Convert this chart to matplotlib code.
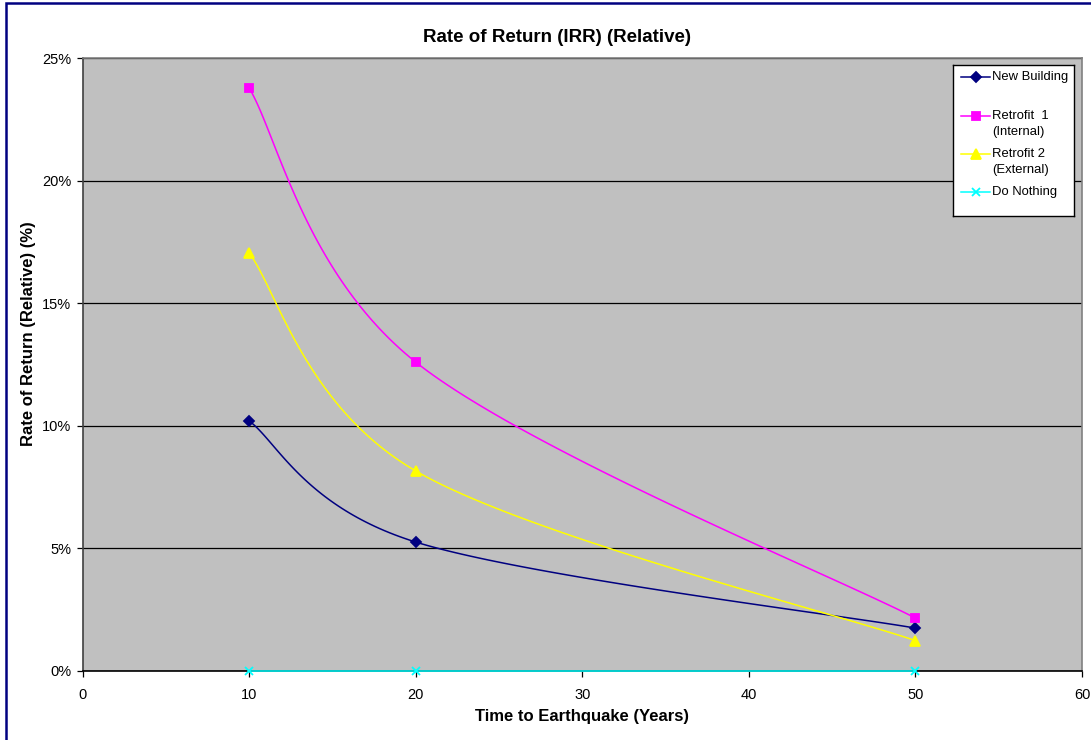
import matplotlib
matplotlib.use("Agg")
import numpy as np
from matplotlib import pyplot as plt
from matplotlib.patches import Rectangle

plt.rcParams["font.family"] = ["Liberation Sans", "DejaVu Sans"]

YEARS = [10, 20, 50]
NEW_BUILDING = [10.2, 5.26, 1.75]
RETROFIT_1 = [23.78, 12.6, 2.16]
RETROFIT_2 = [17.05, 8.16, 1.24]
DO_NOTHING = [0.0, 0.0, 0.0]

SERIES = [
    {"name": "New Building", "data": NEW_BUILDING, "color": "#000080", "marker": "D", "ms": 4.8},
    {"name": "Retrofit  1\n(Internal)", "data": RETROFIT_1, "color": "#FF00FF", "marker": "s", "ms": 5.8},
    {"name": "Retrofit 2\n(External)", "data": RETROFIT_2, "color": "#FFFF00", "marker": "^", "ms": 6.5},
    {"name": "Do Nothing", "data": DO_NOTHING, "color": "#00FFFF", "marker": "x", "ms": 6},
]


def smooth(xs, ys, n=60):
    # excel-ish smoothing: catmull-rom bezier through the points
    p = np.column_stack([xs, ys]).astype(float)
    p = np.vstack([p[0], p, p[-1]])
    out = []
    for i in range(1, len(p) - 2):
        p0, p1, p2, p3 = p[i - 1], p[i], p[i + 1], p[i + 2]
        c1 = p1 + (p2 - p0) / 6
        c2 = p2 - (p3 - p1) / 6
        t = np.linspace(0, 1, n)[:, None]
        seg = ((1 - t) ** 3) * p1 + 3 * t * (1 - t) ** 2 * c1 + 3 * t ** 2 * (1 - t) * c2 + t ** 3 * p2
        out.append(seg)
    out = np.vstack(out)
    return out[:, 0], out[:, 1]


fig = plt.figure(figsize=(10.91, 7.40), dpi=100)
W, H = 1091, 740
ax = fig.add_axes([82.5 / W, 1 - 671 / H, (1082 - 82.5) / W, (671 - 58) / H])
ax.set_facecolor("#C0C0C0")

for s in SERIES:
    sx, sy = smooth(YEARS, s["data"])
    ax.plot(sx, sy, color=s["color"], lw=1.1, zorder=3, clip_on=False)
    ax.plot(YEARS, s["data"], ls="none", marker=s["marker"], ms=s["ms"], color=s["color"],
            mec=s["color"], mew=1.3, zorder=4, clip_on=False)

ax.set_xlim(0, 60)
ax.set_ylim(0, 25)
ax.set_xticks(range(0, 61, 10))
ax.set_yticks(range(0, 26, 5))
ax.set_yticklabels([f"{v}%" for v in range(0, 26, 5)])
ax.yaxis.grid(True, color="#000000", lw=0.9)
ax.set_axisbelow(True)
ax.tick_params(labelsize=10.5, length=4, width=0.9, direction="out", colors="#000000")
ax.tick_params(axis="y", pad=4)
ax.tick_params(axis="x", pad=8)
ax.spines["left"].set_color("#404040")
ax.spines["bottom"].set_color("#000000")
ax.spines["top"].set_color("#808080")
ax.spines["right"].set_color("#808080")
for sp in ax.spines.values():
    sp.set_linewidth(1.2)

fig.text(557 / W, 1 - 38 / H, "Rate of Return (IRR) (Relative)", fontsize=13.5, fontweight="bold",
         ha="center", va="center")
fig.text(582 / W, 1 - 717 / H, "Time to Earthquake (Years)", fontsize=12, fontweight="bold",
         ha="center", va="center")
fig.text(28 / W, 1 - 334 / H, "Rate of Return (Relative) (%)", fontsize=12, fontweight="bold",
         ha="center", va="center", rotation=90)

# legend box drawn by hand to get excel's layout
lg = fig.add_axes([953 / W, 1 - 216 / H, (1074 - 953) / W, (216 - 65) / H])
lg.set_xlim(0, 121)
lg.set_ylim(151, 0)
lg.set_xticks([])
lg.set_yticks([])
lg.set_facecolor("white")
for sp in lg.spines.values():
    sp.set_color("black")
    sp.set_linewidth(1.0)
rows = [12, 51, 89, 127]
for s, yy in zip(SERIES, rows):
    lg.plot([8, 37], [yy, yy], color=s["color"], lw=1.1)
    lg.plot([22.5], [yy], marker=s["marker"], ms=s["ms"], color=s["color"], mec=s["color"], mew=1.3)
    for k, line in enumerate(s["name"].split("\n")):
        lg.text(39, yy + 16 * k, line, fontsize=9.4, va="center", ha="left")

fig.patches.append(Rectangle((6 / W, -10 / H), (1100 - 6) / W, (737 + 10) / H, transform=fig.transFigure,
                             fill=False, edgecolor="#000080", lw=1.8))

fig.savefig("out.png", dpi=100)
